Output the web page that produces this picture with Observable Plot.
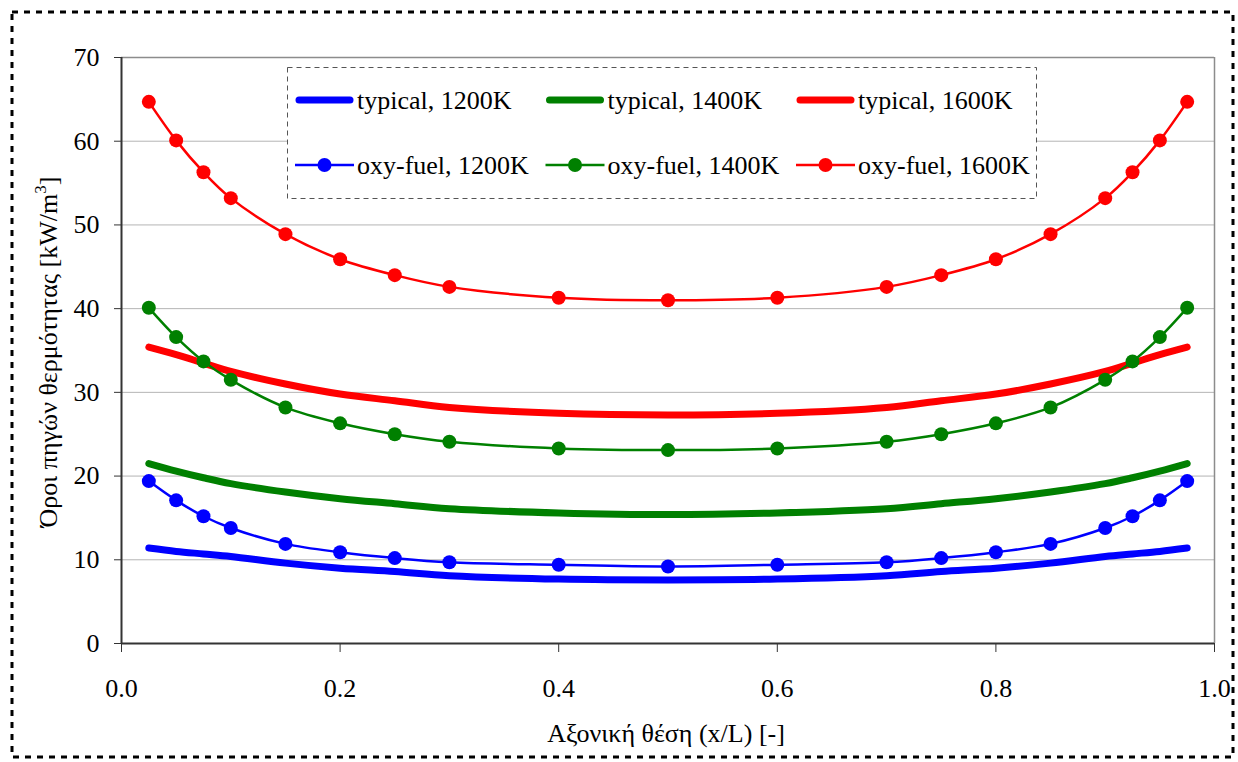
<!DOCTYPE html>
<html><head><meta charset="utf-8">
<script src="https://cdn.jsdelivr.net/npm/d3@7"></script>
<script src="https://cdn.jsdelivr.net/npm/@observablehq/plot@0.6"></script>
<style>body{margin:0;background:#fff} #chart{width:1238px;height:762px}</style>
</head><body><div id="chart"></div>
<script>
// ---- data ----
const xPos = [0.025,0.05,0.075,0.1,0.15,0.2,0.25,0.3,0.4,0.5,0.6,0.7,0.75,0.8,0.85,0.9,0.925,0.95,0.975];
const typical1200 = [11.4,11.0,10.7,10.4,9.6,9.0,8.6,8.1,7.7,7.6,7.7,8.1,8.6,9.0,9.6,10.4,10.7,11.0,11.4];
const typical1400 = [21.5,20.6,19.8,19.1,18.1,17.3,16.7,16.1,15.6,15.4,15.6,16.1,16.7,17.3,18.1,19.1,19.8,20.6,21.5];
const typical1600 = [35.4,34.5,33.5,32.5,31.0,29.8,29.0,28.2,27.5,27.3,27.5,28.2,29.0,29.8,31.0,32.5,33.5,34.5,35.4];
const oxy1200 = [19.4,17.1,15.2,13.8,11.9,10.9,10.2,9.7,9.4,9.2,9.4,9.7,10.2,10.9,11.9,13.8,15.2,17.1,19.4];
const oxy1400 = [40.1,36.6,33.7,31.5,28.2,26.3,25.0,24.1,23.3,23.1,23.3,24.1,25.0,26.3,28.2,31.5,33.7,36.6,40.1];
const oxy1600 = [64.7,60.1,56.3,53.2,48.9,45.9,44.0,42.6,41.3,41.0,41.3,42.6,44.0,45.9,48.9,53.2,56.3,60.1,64.7];
const temps = ["1200K","1400K","1600K"];
const colors = ["#0000ff","#008000","#ff0000"];
const typicalLabels = ["typical, 1200K","typical, 1400K","typical, 1600K"];
const oxyLabels = ["oxy-fuel, 1200K","oxy-fuel, 1400K","oxy-fuel, 1600K"];
const xTicks = [0,0.2,0.4,0.6,0.8,1.0];
const yTicks = [0,10,20,30,40,50,60,70];
const xTitle = "Αξονική θέση (x/L) [-]";
const yTitleMain = "Όροι πηγών θερμότητας [kW/m";
const yTitleSup = "3";
const yTitleEnd = "]";

// ---- build tables ----
const typicalRows = [];
[typical1200, typical1400, typical1600].forEach((arr, i) => arr.forEach((v, j) => typicalRows.push({x: xPos[j], y: v, s: temps[i]})));
const oxyRows = [];
[oxy1200, oxy1400, oxy1600].forEach((arr, i) => arr.forEach((v, j) => oxyRows.push({x: xPos[j], y: v, s: temps[i]})));

const FONT = "Liberation Serif, Times New Roman, serif";
const chart = Plot.plot({
  width: 1238, height: 762,
  marginLeft: 121, marginRight: 24, marginTop: 57, marginBottom: 119,
  style: {fontFamily: FONT, background: "#fff", color: "#000"},
  x: {domain: [0, 1]},
  y: {domain: [0, 70]},
  color: {domain: temps, range: colors},
  marks: [
    Plot.gridY(yTicks.filter(d => d > 0 && d < 70), {stroke: "#b4b4b4", strokeOpacity: 1, strokeWidth: 1}),
    Plot.ruleY([70], {stroke: "#8c8c8c", strokeWidth: 1.5}),
    Plot.ruleX([1], {stroke: "#8c8c8c", strokeWidth: 1.5}),
    Plot.axisX(xTicks, {tickSize: 9, tickPadding: 26, fontSize: 26, tickFormat: d => d.toFixed(1), label: null, stroke: "#333"}),
    Plot.axisY(yTicks, {tickSize: 7, tickPadding: 15, fontSize: 26, label: null, stroke: "#333"}),
    Plot.ruleX([0], {stroke: "#333", strokeWidth: 2}),
    Plot.ruleY([0], {stroke: "#333", strokeWidth: 2}),
    Plot.line(typicalRows, {x: "x", y: "y", z: "s", stroke: "s", strokeWidth: 7, curve: "catmull-rom", strokeLinecap: "round"}),
    Plot.line(oxyRows, {x: "x", y: "y", z: "s", stroke: "s", strokeWidth: 2.5, curve: "catmull-rom"}),
    Plot.dot(oxyRows, {x: "x", y: "y", fill: "s", r: 7})
  ]
});
document.getElementById("chart").appendChild(chart);

// ---- decorations: titles, legend, outer border ----
const svg = d3.select(chart);
svg.append("text").attr("x", 666).attr("y", 742).attr("text-anchor", "middle")
  .attr("font-family", FONT).attr("font-size", 26).attr("fill", "#000").text(xTitle);
const yt = svg.append("text").attr("transform", "translate(57,352) rotate(-90)").attr("text-anchor", "middle")
  .attr("font-family", FONT).attr("font-size", 26).attr("fill", "#000");
yt.append("tspan").text(yTitleMain);
yt.append("tspan").attr("dy", -11).attr("font-size", 17).text(yTitleSup);
yt.append("tspan").attr("dy", 11).text(yTitleEnd);

const lg = svg.append("g").attr("text-anchor", "start");
lg.append("rect").attr("x", 287.5).attr("y", 67.5).attr("width", 749).attr("height", 131)
  .attr("fill", "#fff").attr("stroke", "#555").attr("stroke-width", 1).attr("stroke-dasharray", "5,4");
temps.forEach((t, i) => {
  const x0 = 295 + i * 250.5;
  lg.append("line").attr("x1", x0 + 4).attr("x2", x0 + 55).attr("y1", 100).attr("y2", 100)
    .attr("stroke", colors[i]).attr("stroke-width", 7).attr("stroke-linecap", "round");
  lg.append("text").attr("x", x0 + 62).attr("y", 109).attr("text-anchor", "start").attr("font-family", FONT).attr("font-size", 26).attr("fill", "#000").text(typicalLabels[i]);
  lg.append("line").attr("x1", x0).attr("x2", x0 + 59).attr("y1", 165).attr("y2", 165)
    .attr("stroke", colors[i]).attr("stroke-width", 2.5);
  lg.append("circle").attr("cx", x0 + 29.5).attr("cy", 165).attr("r", 7).attr("fill", colors[i]);
  lg.append("text").attr("x", x0 + 62).attr("y", 174).attr("text-anchor", "start").attr("font-family", FONT).attr("font-size", 26).attr("fill", "#000").text(oxyLabels[i]);
});

svg.append("rect").attr("x", 12).attr("y", 12).attr("width", 1221).attr("height", 745)
  .attr("fill", "none").attr("stroke", "#000").attr("stroke-width", 3).attr("stroke-dasharray", "6,6");
</script>
</body></html>
